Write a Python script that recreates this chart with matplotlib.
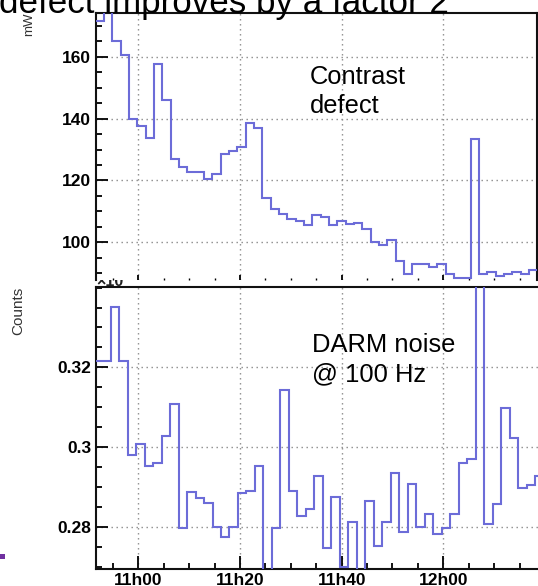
import numpy as np
import matplotlib
matplotlib.use("Agg")
import matplotlib.pyplot as plt
from matplotlib.ticker import FixedLocator, MultipleLocator, FuncFormatter, NullFormatter
from matplotlib.transforms import Bbox
from matplotlib.patches import Rectangle

# ---------------- data ----------------
# time axis in minutes after 11h00
time_ticks = [0, 20, 40, 60]
time_labels = ["11h00", "11h20", "11h40", "12h00"]

# Contrast defect (mW), histogram bins
contrast_start = -8.40
contrast_width = 1.6396
contrast_mw = [171.6, 178.0, 165.2, 160.5, 139.7, 137.6, 133.6, 157.8, 146.0, 126.8,
               124.4, 122.8, 122.8, 120.6, 122.2, 128.7, 129.6, 130.9, 138.6, 136.8,
               114.4, 110.8, 109.2, 107.6, 106.9, 105.7, 108.9, 108.2, 105.7, 106.9,
               106.0, 106.3, 104.4, 100.1, 99.0, 100.9, 93.8, 89.9, 92.9, 92.9,
               92.1, 92.9, 89.7, 88.6, 88.6, 133.4, 89.7, 90.3, 89.2, 89.7,
               90.3, 89.7, 91.0]

# DARM noise @ 100 Hz (counts, x10^-3), histogram bins
darm_start = -8.775
darm_width = 1.6697
darm_counts = [0.3217, 0.3217, 0.3352, 0.3217, 0.2980, 0.3007, 0.2953, 0.2959, 0.3028, 0.3108,
               0.2796, 0.2886, 0.2871, 0.2859, 0.2800, 0.2775, 0.2800, 0.2884, 0.2890, 0.2953,
               0.2650, 0.2796, 0.3142, 0.2890, 0.2827, 0.2844, 0.2927, 0.2746, 0.2875, 0.2698,
               0.2813, 0.2660, 0.2864, 0.2752, 0.2813, 0.2934, 0.2786, 0.2907, 0.2800, 0.2833,
               0.2781, 0.2796, 0.2833, 0.2961, 0.2969, 0.3450, 0.2806, 0.2857, 0.3097, 0.3022,
               0.2896, 0.2905, 0.2926]

top_yticks = [100, 120, 140, 160]
bot_yticks = [0.28, 0.30, 0.32]

# ---------------- style ----------------
W, H = 538, 586
DPI = 100
LINE = "#6c6cd8"
GRID = "#8a8a8a"
FONT = "Liberation Sans"

plt.rcParams["font.family"] = [FONT, "DejaVu Sans"]

fig = plt.figure(figsize=(W / DPI, H / DPI), dpi=DPI)


def fx(px):
    return px / W


def fy(py):
    return 1 - py / H


def pt(px):
    return px * 72.0 / DPI


x_left = -8.32
px_per_min = 5.0833
ax_left_px = 96

# top panel
top_top_px, top_bot_px, top_right_px = 12.7, 280.0, 537.3
ax1 = fig.add_axes([fx(ax_left_px), fy(top_bot_px), fx(top_right_px - ax_left_px),
                    (top_bot_px - top_top_px) / H])
# bottom panel
bot_top_px, bot_bot_px, bot_right_px = 286.7, 569.3, 545.0
ax2 = fig.add_axes([fx(ax_left_px), fy(bot_bot_px), fx(bot_right_px - ax_left_px),
                    (bot_bot_px - bot_top_px) / H])
ax2.set_zorder(2)

edges1 = contrast_start + contrast_width * np.arange(len(contrast_mw) + 1)
edges2 = darm_start + darm_width * np.arange(len(darm_counts) + 1)

ax1.stairs(contrast_mw, edges1, baseline=None, color=LINE, linewidth=1.5, zorder=3)
ax2.stairs(darm_counts, edges2, baseline=None, color=LINE, linewidth=1.5, zorder=3)

# limits (same time scale for both)
ax1.set_xlim(x_left, x_left + (top_right_px - ax_left_px) / px_per_min)
ax2.set_xlim(x_left, x_left + (bot_right_px - ax_left_px) / px_per_min)
# y scales: 160 at 56.7px, 100 at 242.3px
t_scale = (242.3 - 56.7) / 60.0
ax1.set_ylim(100 - (top_bot_px - 242.3) / t_scale, 160 + (56.7 - top_top_px) / t_scale)
b_scale = (526.7 - 367.3) / 0.04
ax2.set_ylim(0.28 - (bot_bot_px - 526.7) / b_scale, 0.32 + (367.3 - bot_top_px) / b_scale)

grid_kw = dict(color=GRID, linestyle=(0, (1, 2.6)), linewidth=1.0)
for ax in (ax1, ax2):
    ax.set_axisbelow(True)
    ax.xaxis.set_major_locator(FixedLocator(time_ticks))
    ax.xaxis.set_minor_locator(MultipleLocator(5))
    ax.grid(True, which="major", **grid_kw)
    for s in ax.spines.values():
        s.set_linewidth(1.5)
        s.set_color("#111111")
    ax.tick_params(axis="y", which="major", direction="in", length=pt(12), width=1.3,
                   pad=pt(5), labelsize=12.5, right=False)
    ax.tick_params(axis="y", which="minor", direction="in", length=pt(6), width=1.3, right=False)
    for lab in ax.get_yticklabels():
        lab.set_fontweight("bold")

ax1.yaxis.set_major_locator(FixedLocator(top_yticks))
ax1.yaxis.set_minor_locator(MultipleLocator(5))
ax1.yaxis.set_major_formatter(FuncFormatter(lambda v, p: f"{v:g}"))
ax1.spines["bottom"].set_visible(False)
ax1.tick_params(axis="x", which="major", direction="in", length=pt(5), width=1.3,
                labelbottom=False, top=False)
ax1.tick_params(axis="x", which="minor", direction="in", length=pt(2.3), width=1.0, top=False)

ax2.yaxis.set_major_locator(FixedLocator(bot_yticks))
ax2.yaxis.set_minor_locator(MultipleLocator(0.005))
ax2.yaxis.set_major_formatter(FuncFormatter(lambda v, p: f"{v:g}"))
ax2.xaxis.set_major_formatter(FuncFormatter(
    lambda v, p: time_labels[time_ticks.index(int(round(v)))] if int(round(v)) in time_ticks else ""))
ax2.tick_params(axis="x", which="major", direction="in", length=pt(12.7), width=1.3,
                pad=pt(4), labelsize=12.5, top=False)
ax2.tick_params(axis="x", which="minor", direction="in", length=pt(6), width=1.3, top=False)
ax2.spines["right"].set_visible(False)

for ax in (ax1, ax2):
    for lab in ax.get_yticklabels() + ax.get_xticklabels():
        lab.set_fontweight("bold")

# axis titles
fig.text(fx(29), fy(13), "mW", rotation=90, ha="center", va="top", fontsize=9.5, color="#333333")
fig.text(fx(18), fy(287), "Counts", rotation=90, ha="center", va="top", fontsize=11,
         color="#333333")

# in-panel annotations
ann = dict(fontsize=18.4, color="black", ha="left", va="baseline")
fig.text(fx(309.5), fy(84), "Contrast", **ann)
fig.text(fx(309.5), fy(113.3), "defect", **ann)
fig.text(fx(312), fy(351.7), "DARM noise", **ann)
fig.text(fx(312), fy(381.7), "@ 100 Hz", **ann)

# slide title (cut at top)
fig.text(fx(-1), fy(12.7), "defect improves by a factor 2", fontsize=25.2, ha="left",
         va="baseline", color="black")

# exponent label partly hidden between the panels
exp_txt = fig.text(fx(96), fy(286.5), "\u00d710", fontsize=11.5, ha="left", va="baseline",
                   color="#222222", fontweight="bold", zorder=5)
exp_txt.set_clip_on(True)
exp_txt.set_clip_box(Bbox.from_extents(80, H - 287.0, 140, H - 279.5))

# purple slide bullet at bottom-left
fig.patches.append(Rectangle((0, fy(559)), fx(5), (559 - 554) / H, transform=fig.transFigure,
                             facecolor="#7030a0", edgecolor="none", figure=fig))

fig.savefig("out.png", dpi=DPI)
